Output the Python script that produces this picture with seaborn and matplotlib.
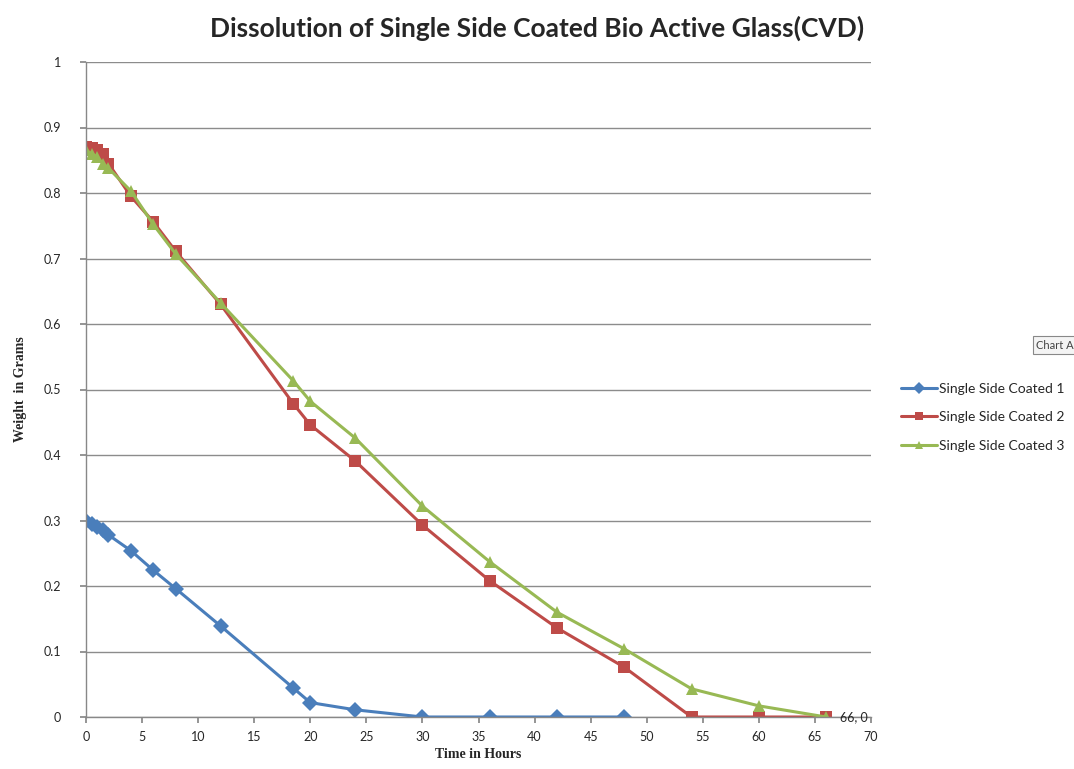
import matplotlib
matplotlib.use("Agg")
import matplotlib.pyplot as plt
import seaborn as sns
import pandas as pd

# Sampling times (hours)
hours = [0, 0.5, 1, 1.5, 2, 4, 6, 8, 12, 18.5, 20, 24, 30, 36, 42, 48, 54, 60, 66]

# Remaining weight (grams) for each single-side coated sample
coated_1 = [0.300, 0.295, 0.290, 0.285, 0.278, 0.254, 0.224, 0.196, 0.139, 0.044, 0.022, 0.011,
            0.0, 0.0, 0.0, 0.0, None, None, None]
coated_2 = [0.870, 0.869, 0.866, 0.860, 0.845, 0.795, 0.756, 0.711, 0.630, 0.478, 0.446, 0.391,
            0.293, 0.208, 0.136, 0.076, 0.0, 0.0, 0.0]
coated_3 = [0.865, 0.860, 0.855, 0.845, 0.838, 0.803, 0.752, 0.707, 0.632, 0.513, 0.482, 0.426,
            0.322, 0.237, 0.160, 0.104, 0.043, 0.017, 0.0]

series_names = ["Single Side Coated 1", "Single Side Coated 2", "Single Side Coated 3"]
x_ticks = list(range(0, 71, 5))
y_ticks = [round(0.1 * i, 1) for i in range(11)]

frames = []
for name, vals in zip(series_names, [coated_1, coated_2, coated_3]):
    frames.append(pd.DataFrame({"Time": hours, "Weight": vals, "Series": name}))
df = pd.concat(frames).dropna()

sns.set_theme(style="white")
plt.rcParams["font.family"] = ["Lato", "DejaVu Sans"]

fig = plt.figure(figsize=(10.74, 7.69), dpi=100)
ax = fig.add_axes([86 / 1074, 1 - 717 / 769, (871 - 86) / 1074, (717 - 62) / 769])

palette = {series_names[0]: "#4A7EBB", series_names[1]: "#BE4B48", series_names[2]: "#98B954"}
markers = {series_names[0]: "D", series_names[1]: "s", series_names[2]: "^"}

sns.lineplot(data=df, x="Time", y="Weight", hue="Series", style="Series",
             palette=palette, markers=markers, dashes=False, linewidth=2.2,
             markersize=8, markeredgewidth=0, ax=ax, legend=True, sort=False)

# enlarge the square markers a touch, shrink diamonds
for line in ax.get_lines():
    lab = line.get_label()
    if lab == series_names[1]:
        line.set_markersize(9)
    elif lab == series_names[0]:
        line.set_markersize(6.5)

ax.set_xlim(0, 70)
ax.set_ylim(0, 1)
ax.set_xticks(x_ticks)
ax.set_yticks(y_ticks)
ax.set_xticklabels([str(t) for t in x_ticks], fontsize=9)
ax.set_yticklabels(["0" if t == 0 else ("1" if t == 1 else f"{t:g}") for t in y_ticks], fontsize=9)
ax.tick_params(axis="x", which="both", length=4, color="#888888", direction="out", pad=6, bottom=True)
ax.tick_params(axis="y", length=4, color="#888888", direction="out", pad=14, left=True)
ax.yaxis.grid(True, color="#8c8c8c", linewidth=1)
ax.xaxis.grid(False)
for side in ["top", "right"]:
    ax.spines[side].set_visible(False)
for side in ["left", "bottom"]:
    ax.spines[side].set_color("#888888")
    ax.spines[side].set_linewidth(1)

ax.set_xlabel("Time in Hours", fontsize=10, fontweight="bold",
              family=["Liberation Serif"], labelpad=4)
ax.set_ylabel("Weight  in Grams", fontsize=10, fontweight="bold",
              family=["Liberation Serif"], labelpad=12)

fig.suptitle("Dissolution of Single Side Coated Bio Active Glass(CVD)", x=537 / 1074,
             y=1 - 28 / 769, va="center", fontsize=19, fontweight="bold")

# data label on final point
last_x = hours[-1]
last_y = coated_2[-1]
ax.annotate(f"{last_x:g}, {last_y:g}", xy=(last_x, last_y), xytext=(10, 0),
            textcoords="offset points", va="center", fontsize=9, annotation_clip=False)

ax.legend_.remove()
handles, labels = ax.get_legend_handles_labels()
for h in handles:
    h.set_markersize(6)
fig.legend(handles, labels, loc="upper left", bbox_to_anchor=(895 / 1074, 1 - 377 / 769),
           frameon=False, fontsize=10, handlelength=2.6, labelspacing=1.2, handletextpad=0.2,
           borderaxespad=0)

# tooltip box at the right edge
fig.text(1036 / 1074, 1 - 345 / 769, "Chart A", fontsize=8, va="center", ha="left",
         color="#444444", bbox=dict(boxstyle="square,pad=0.3", fc="#f4f4f4", ec="#888888", lw=0.8))

fig.savefig("out.png", dpi=100)
